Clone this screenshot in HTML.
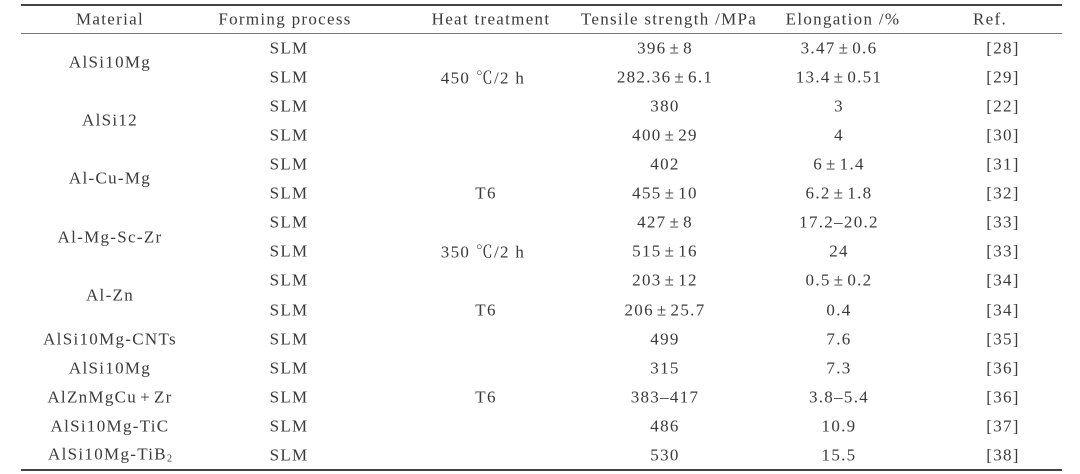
<!DOCTYPE html>
<html>
<head>
<meta charset="utf-8">
<style>
html,body{margin:0;padding:0;background:#fff;}
body{width:1080px;height:474px;position:relative;overflow:hidden;
font-family:"Liberation Serif","Times New Roman","DejaVu Serif","Noto Serif CJK SC",serif;color:#3a3a3a;font-size:17px;letter-spacing:1.3px;}
.t{position:absolute;white-space:nowrap;transform:translate(-50%,-50%);line-height:1;}
.line{position:absolute;left:21px;width:1041px;}
.pm{margin:0 3px;}
.c{font-family:"Noto Serif CJK SC","Noto Sans CJK SC",serif;}
sub{font-size:10px;vertical-align:-2px;letter-spacing:0;}
</style>
</head>
<body>
<div class="line" style="top:4px;height:2px;background:#444;"></div>
<div class="line" style="top:33px;height:1px;background:#777;"></div>
<div class="line" style="top:469px;height:2px;background:#444;"></div>

<!-- header -->
<div class="t" style="left:110px;top:19px;">Material</div>
<div class="t" style="left:285px;top:19px;">Forming process</div>
<div class="t" style="left:491px;top:19px;">Heat treatment</div>
<div class="t" style="left:669px;top:19px;">Tensile strength /MPa</div>
<div class="t" style="left:843px;top:19px;">Elongation /%</div>
<div class="t" style="left:990px;top:19px;">Ref.</div>

<!-- material -->
<div class="t" style="left:110px;top:62px;">AlSi10Mg</div>
<div class="t" style="left:110px;top:120px;">AlSi12</div>
<div class="t" style="left:110px;top:178px;">Al-Cu-Mg</div>
<div class="t" style="left:110px;top:237px;">Al-Mg-Sc-Zr</div>
<div class="t" style="left:110px;top:295px;">Al-Zn</div>
<div class="t" style="left:110px;top:339px;">AlSi10Mg-CNTs</div>
<div class="t" style="left:110px;top:368px;">AlSi10Mg</div>
<div class="t" style="left:110px;top:397px;">AlZnMgCu<span class="pm">+</span>Zr</div>
<div class="t" style="left:110px;top:426px;">AlSi10Mg-TiC</div>
<div class="t" style="left:110px;top:455px;">AlSi10Mg-TiB<sub>2</sub></div>

<!-- forming -->
<div class="t" style="left:289px;top:48px;">SLM</div>
<div class="t" style="left:289px;top:77px;">SLM</div>
<div class="t" style="left:289px;top:106px;">SLM</div>
<div class="t" style="left:289px;top:135px;">SLM</div>
<div class="t" style="left:289px;top:164px;">SLM</div>
<div class="t" style="left:289px;top:193px;">SLM</div>
<div class="t" style="left:289px;top:222px;">SLM</div>
<div class="t" style="left:289px;top:251px;">SLM</div>
<div class="t" style="left:289px;top:280px;">SLM</div>
<div class="t" style="left:289px;top:310px;">SLM</div>
<div class="t" style="left:289px;top:339px;">SLM</div>
<div class="t" style="left:289px;top:368px;">SLM</div>
<div class="t" style="left:289px;top:397px;">SLM</div>
<div class="t" style="left:289px;top:426px;">SLM</div>
<div class="t" style="left:289px;top:455px;">SLM</div>

<!-- heat treatment -->
<div class="t" style="left:483px;top:77px;">450 <span class="c">℃</span>/2 h</div>
<div class="t" style="left:486px;top:193px;">T6</div>
<div class="t" style="left:483px;top:251px;">350 <span class="c">℃</span>/2 h</div>
<div class="t" style="left:486px;top:310px;">T6</div>
<div class="t" style="left:486px;top:397px;">T6</div>

<!-- tensile -->
<div class="t" style="left:665px;top:48px;">396<span class="pm">±</span>8</div>
<div class="t" style="left:665px;top:77px;">282.36<span class="pm">±</span>6.1</div>
<div class="t" style="left:665px;top:106px;">380</div>
<div class="t" style="left:665px;top:135px;">400<span class="pm">±</span>29</div>
<div class="t" style="left:665px;top:164px;">402</div>
<div class="t" style="left:665px;top:193px;">455<span class="pm">±</span>10</div>
<div class="t" style="left:665px;top:222px;">427<span class="pm">±</span>8</div>
<div class="t" style="left:665px;top:251px;">515<span class="pm">±</span>16</div>
<div class="t" style="left:665px;top:280px;">203<span class="pm">±</span>12</div>
<div class="t" style="left:665px;top:310px;">206<span class="pm">±</span>25.7</div>
<div class="t" style="left:665px;top:339px;">499</div>
<div class="t" style="left:665px;top:368px;">315</div>
<div class="t" style="left:665px;top:397px;">383–417</div>
<div class="t" style="left:665px;top:426px;">486</div>
<div class="t" style="left:665px;top:455px;">530</div>

<!-- elongation -->
<div class="t" style="left:839px;top:48px;">3.47<span class="pm">±</span>0.6</div>
<div class="t" style="left:839px;top:77px;">13.4<span class="pm">±</span>0.51</div>
<div class="t" style="left:839px;top:106px;">3</div>
<div class="t" style="left:839px;top:135px;">4</div>
<div class="t" style="left:839px;top:164px;">6<span class="pm">±</span>1.4</div>
<div class="t" style="left:839px;top:193px;">6.2<span class="pm">±</span>1.8</div>
<div class="t" style="left:839px;top:222px;">17.2–20.2</div>
<div class="t" style="left:839px;top:251px;">24</div>
<div class="t" style="left:839px;top:280px;">0.5<span class="pm">±</span>0.2</div>
<div class="t" style="left:839px;top:310px;">0.4</div>
<div class="t" style="left:839px;top:339px;">7.6</div>
<div class="t" style="left:839px;top:368px;">7.3</div>
<div class="t" style="left:839px;top:397px;">3.8–5.4</div>
<div class="t" style="left:839px;top:426px;">10.9</div>
<div class="t" style="left:839px;top:455px;">15.5</div>

<!-- ref -->
<div class="t" style="left:1003px;top:48px;">[28]</div>
<div class="t" style="left:1003px;top:77px;">[29]</div>
<div class="t" style="left:1003px;top:106px;">[22]</div>
<div class="t" style="left:1003px;top:135px;">[30]</div>
<div class="t" style="left:1003px;top:164px;">[31]</div>
<div class="t" style="left:1003px;top:193px;">[32]</div>
<div class="t" style="left:1003px;top:222px;">[33]</div>
<div class="t" style="left:1003px;top:251px;">[33]</div>
<div class="t" style="left:1003px;top:280px;">[34]</div>
<div class="t" style="left:1003px;top:310px;">[34]</div>
<div class="t" style="left:1003px;top:339px;">[35]</div>
<div class="t" style="left:1003px;top:368px;">[36]</div>
<div class="t" style="left:1003px;top:397px;">[36]</div>
<div class="t" style="left:1003px;top:426px;">[37]</div>
<div class="t" style="left:1003px;top:455px;">[38]</div>
</body>
</html>
